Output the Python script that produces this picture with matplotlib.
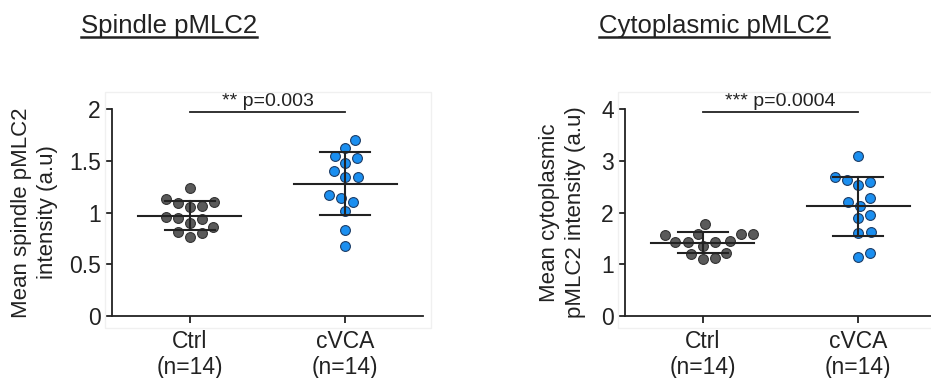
"""
Spindle and cytoplasmic pMLC2 intensity, Ctrl vs cVCA (scatter dot plots
with mean and SD, Prism style).
"""
import numpy as np
import matplotlib.pyplot as plt
from matplotlib.lines import Line2D
from matplotlib.patches import Rectangle

plt.rcParams["font.family"] = ["Liberation Sans", "DejaVu Sans"]

GROUPS = ["Ctrl\n(n=14)", "cVCA\n(n=14)"]

SPINDLE_CTRL = [1.235, 1.135, 1.087, 1.106, 1.052, 1.065, 0.958,
                0.935, 0.948, 0.903, 0.816, 0.858, 0.768, 0.800]
SPINDLE_CVCA = [1.697, 1.623, 1.548, 1.523, 1.481, 1.403, 1.342,
                1.342, 1.171, 1.139, 1.106, 1.010, 0.832, 0.677]
CYTO_CTRL = [1.781, 1.581, 1.561, 1.581, 1.594, 1.439, 1.426,
             1.361, 1.426, 1.458, 1.194, 1.226, 1.097, 1.116]
CYTO_CVCA = [3.084, 2.619, 2.594, 2.523, 2.677, 2.200, 2.284,
             2.129, 1.890, 1.955, 1.626, 1.600, 1.148, 1.213]

# mean and SD as shown by the error bars
SPINDLE_MEAN = [0.971, 1.277]
SPINDLE_SD = [0.142, 0.303]
CYTO_MEAN = [1.413, 2.116]
CYTO_SD = [0.203, 0.561]

SPINDLE_P = "** p=0.003"
CYTO_P = "*** p=0.0004"

COLOURS = ["#5a5a5a", "#1b8ff0"]
EDGES = ["#333333", "#1d3d66"]

W, H = 931, 378
fig = plt.figure(figsize=(W / 100, H / 100), dpi=100)


def swarm_offsets(ax, values, centre, diameter=12.5):
    """Greedy beeswarm: returns x positions (data) for the given values."""
    trans = ax.transData
    ys = np.array([trans.transform((centre, v))[1] for v in values])
    x0 = trans.transform((centre, 0))[0]
    order = np.argsort(ys)
    placed = []
    xs_px = np.zeros(len(values))
    for i in order:
        y = ys[i]
        cands = [0.0]
        for px, py in placed:
            dy = y - py
            if abs(dy) < diameter:
                dx = np.sqrt(diameter ** 2 - dy ** 2)
                cands += [px + dx, px - dx]
        cands.sort(key=abs)
        for c in cands:
            if all((c - px) ** 2 + (y - py) ** 2 >= diameter ** 2 - 1e-6
                   for px, py in placed):
                break
        placed.append((c, y))
        xs_px[i] = c
    inv = trans.inverted()
    return [inv.transform((x0 + dx, 0))[0] for dx in xs_px]


def panel(rect, data, means, sds, ymax, yticks, yticklabels, ylabel,
          pvalue, labelpad):
    ax = fig.add_axes(rect)
    ax.set_xlim(-0.5, 1.5)
    ax.set_ylim(0, ymax)
    for spine in ("top", "right"):
        ax.spines[spine].set_visible(False)
    for spine in ("left", "bottom"):
        ax.spines[spine].set_linewidth(1.3)
        ax.spines[spine].set_color("#222222")
    ax.set_xticks(range(len(GROUPS)))
    ax.set_xticklabels(GROUPS, fontsize=16.5, color="#222222",
                       linespacing=1.2)
    ax.set_yticks(yticks)
    ax.set_yticklabels(yticklabels, fontsize=16.5, color="#222222")
    ax.tick_params(length=5, width=1.3, color="#222222", pad=3)
    ax.tick_params(axis="x", pad=5)
    ax.set_ylabel(ylabel, fontsize=16, color="#222222",
                  labelpad=labelpad, linespacing=1.3)

    for i, values in enumerate(data):
        xs = swarm_offsets(ax, values, i)
        ax.scatter(xs, values, s=50, color=COLOURS[i], edgecolor=EDGES[i],
                   linewidth=0.8, zorder=3, clip_on=False)
        m, s = means[i], sds[i]
        ax.plot([i - 0.33, i + 0.33], [m, m], color="#222222", lw=1.5,
                zorder=4)
        ax.plot([i - 0.16, i + 0.16], [m + s, m + s], color="#222222",
                lw=1.5, zorder=4)
        ax.plot([i - 0.16, i + 0.16], [m - s, m - s], color="#222222",
                lw=1.5, zorder=4)
        ax.plot([i, i], [m - s, m + s], color="#222222", lw=1.5, zorder=4)

    ybar = ymax * 0.984
    ax.plot([0, 1], [ybar, ybar], color="#222222", lw=1.3, clip_on=False)
    ax.text(0.5, ybar + ymax * 0.01, pvalue, ha="center", va="bottom",
            fontsize=14, color="#222222", clip_on=False)
    return ax


def underlined_title(x, y, text):
    t = fig.text(x / W, 1 - y / H, text, ha="center", va="baseline",
                 fontsize=18.5, color="#222222")
    fig.canvas.draw()
    bb = t.get_window_extent()
    yl = (H - y - 4) / H
    fig.add_artist(Line2D([bb.x0 / W, bb.x1 / W], [yl, yl], lw=1.8,
                          color="#222222"))


# light frames around each plot area
fig.add_artist(Rectangle((105 / W, 1 - 328 / H), 326 / W, 236 / H,
                         fill=False, edgecolor="#f0f0f0", lw=1))
fig.add_artist(Rectangle((618 / W, 1 - 328 / H), 330 / W, 236 / H,
                         fill=False, edgecolor="#f0f0f0", lw=1))

panel([112 / W, 62 / H, 311 / W, 207 / H],
      [SPINDLE_CTRL, SPINDLE_CVCA], SPINDLE_MEAN, SPINDLE_SD,
      2, [0, 0.5, 1, 1.5, 2], ["0", "0.5", "1", "1.5", "2"],
      "Mean spindle pMLC2\nintensity (a.u)", SPINDLE_P, 8)
panel([625 / W, 62 / H, 311 / W, 207 / H],
      [CYTO_CTRL, CYTO_CVCA], CYTO_MEAN, CYTO_SD,
      4, [0, 1, 2, 3, 4], ["0", "1", "2", "3", "4"],
      "Mean cytoplasmic\npMLC2 intensity (a.u)", CYTO_P, 11)

underlined_title(169, 33, "Spindle pMLC2")
underlined_title(714, 33, "Cytoplasmic pMLC2")

fig.savefig("out.png", dpi=100)
